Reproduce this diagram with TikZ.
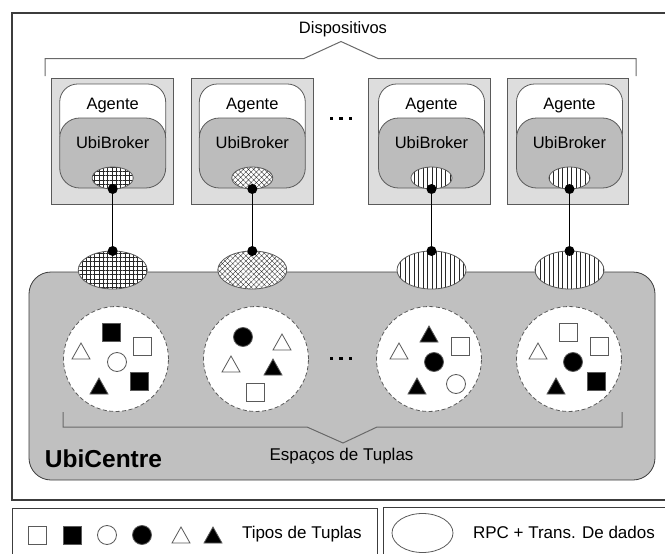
\documentclass[tikz,border=0pt]{standalone}
\usepackage{fontspec}
\setmainfont{Liberation Sans}
\usetikzlibrary{shapes.geometric,patterns.meta}

\definecolor{framegray}{RGB}{60,60,60}
\definecolor{devfill}{RGB}{221,221,221}
\definecolor{brokerfill}{RGB}{188,188,188}
\definecolor{centrefill}{RGB}{192,192,192}
\definecolor{edgegray}{RGB}{90,90,90}
\definecolor{bracegray}{RGB}{105,105,105}
\definecolor{hatchink}{RGB}{40,40,40}

% tuple-type glyphs (position in px, y downwards)
\newcommand\tupSq[3]{\draw[tupline,fill=#3,shift={(#1,#2)}] (-9,-9) rectangle (9,9);}
\newcommand\tupCirc[3]{\draw[tupline,fill=#3,shift={(#1,#2)}] (0,0) circle (9.5pt);}
\newcommand\tupTri[3]{\draw[tupline,fill=#3,shift={(#1,#2)}] (-9,8) -- (9,8) -- (0,-8) -- cycle;}
\newcommand\tupDots[2]{\foreach \dx in {-9.5,0,9.5}{\fill[black,shift={(#1+\dx,#2)}] (-1.8,-1.8) rectangle (1.8,1.8);}}

\tikzset{
  every node/.style={inner sep=0pt, outer sep=0pt},
  txt/.style={font=\fontsize{16.5}{19}\selectfont},
  devbox/.style={rectangle, draw=edgegray, fill=devfill, line width=0.8pt,
                 minimum width=121.5pt, minimum height=126pt},
  agentbox/.style={rectangle, draw=edgegray, fill=white, line width=0.8pt,
                 rounded corners=18pt, minimum width=106pt, minimum height=66pt},
  brokerbox/.style={rectangle, draw=edgegray, fill=brokerfill, line width=0.8pt,
                 rounded corners=20pt, minimum width=106pt, minimum height=70pt},
  centrebox/.style={rectangle, draw=framegray, fill=centrefill, line width=0.8pt,
                 rounded corners=22pt, minimum width=626pt, minimum height=208pt},
  spacecirc/.style={circle, draw=edgegray, fill=white, dashed, dash pattern=on 4pt off 2.5pt,
                 line width=0.8pt, minimum size=105pt},
  smallell/.style={ellipse, draw=edgegray, line width=0.8pt, preaction={fill=white},
                 minimum width=41pt, minimum height=22pt},
  bigell/.style={ellipse, draw=edgegray, line width=0.8pt, preaction={fill=white},
                 minimum width=69pt, minimum height=38pt},
  patA/.style={pattern={Hatch[angle=0,distance=4.3pt,line width=0.35pt]}, pattern color=hatchink},
  patB/.style={pattern={Hatch[angle=45,distance=3.7pt,line width=0.32pt]}, pattern color=hatchink},
  patC/.style={pattern={Lines[angle=90,distance=4.5pt,line width=0.4pt]}, pattern color=hatchink},
  link/.style={draw=black, line width=0.9pt},
  brace/.style={draw=bracegray, line width=1pt},
  frame/.style={draw=framegray, line width=1.2pt},
  tupline/.style={draw=edgegray, line width=0.8pt},
}

\begin{document}
\begin{tikzpicture}[x=1pt, y=-1pt]
  \useasboundingbox (0,0) rectangle (665,554);

  % outer frame and legend boxes
  \draw[frame] (12,13) rectangle (672,500);
  \draw[frame, line width=1pt] (12,508) rectangle (377,562);
  \draw[frame, line width=1pt] (383,507) rectangle (672,562);

  % devices bracket
  \node[txt, anchor=base] (dispositivos) at (343,33.5) {Dispositivos};
  \draw[brace] (45,76) -- (45,58.5) -- (304,58.5) -- (341,41.5) -- (378,58.5) -- (636,58.5) -- (636,76);

  % UbiCentre body
  \node[centrebox] (ubicentre) at (342,376) {};

  % devices: box, agent, broker, local endpoint, channel ellipse, tuple space
  \foreach \i/\bx/\lx/\tx/\pat in {1/112.3/112.7/116/patA, 2/252.5/252.3/256/patB,
                                   3/429.5/431.5/429/patC, 4/568/569.5/569/patC}{
    \node[devbox] (dev\i) at (\bx,141) {};
    \node[agentbox] (ag\i) at (\lx,117) {};
    \node[brokerbox] (br\i) at (\lx,153) {};
    \node[txt, anchor=base] (agtxt\i) at (\lx,109) {Agente};
    \node[txt, anchor=base] (brtxt\i) at (\lx,148) {UbiBroker};
    \node[smallell, \pat] (se\i) at (\lx,178) {};
    \node[spacecirc] (ts\i) at (\tx,359) {};
    \node[bigell, \pat] (ce\i) at (\lx,270) {};
    \draw[link] (se\i.south) -- (ce\i.north);
    \fill[black] (se\i.south) circle (5pt);
    \fill[black] (ce\i.north) circle (5pt);
  }

  % ellipsis marks
  \tupDots{341}{118.3}
  \tupDots{341}{358.3}

  % tuples in space 1
  \tupSq{111}{332}{black}
  \tupSq{142}{346}{white}
  \tupTri{81}{351}{white}
  \tupCirc{117}{362}{white}
  \tupTri{99}{386}{black}
  \tupSq{139}{381}{black}
  % tuples in space 2
  \tupCirc{243}{337}{black}
  \tupTri{282}{342}{white}
  \tupTri{231}{364}{white}
  \tupTri{273}{367}{black}
  \tupSq{255}{392}{white}
  % tuples in space 3
  \tupTri{429}{334}{black}
  \tupTri{399}{351}{white}
  \tupSq{460}{346}{white}
  \tupCirc{434}{362}{black}
  \tupTri{417}{386}{black}
  \tupCirc{456}{384}{white}
  % tuples in space 4
  \tupSq{568}{332}{white}
  \tupSq{599}{346}{white}
  \tupTri{538}{351}{white}
  \tupCirc{573}{362}{black}
  \tupTri{556}{386}{black}
  \tupSq{596}{381}{black}

  % tuple spaces bracket
  \draw[brace] (63,412) -- (63,427) -- (307,427) -- (343,443) -- (377,427) -- (622,427) -- (622,412);
  \node[txt, font=\fontsize{17}{20}\selectfont, anchor=base] (espacos) at (341.5,460) {Espaços de Tuplas};
  \node[anchor=base west, font=\fontsize{24.5}{28}\selectfont\bfseries] (ubiname) at (45,467) {UbiCentre};

  % legend: tuple types
  \tupSq{37.5}{535}{white}
  \tupSq{72}{535}{black}
  \tupCirc{107}{535}{white}
  \tupCirc{142}{535}{black}
  \tupTri{181}{535}{white}
  \tupTri{213}{535}{black}
  \node[anchor=base west, font=\fontsize{17}{20}\selectfont] (tipos) at (242,538.5) {Tipos de Tuplas};

  % legend: channel
  \node[ellipse, draw=edgegray, line width=0.8pt, minimum width=61pt, minimum height=39pt] (legell) at (422.5,533) {};
  \node[anchor=base west, font=\fontsize{17}{20}\selectfont] (rpc) at (473,538.5) {RPC + Trans. De dados};
\end{tikzpicture}
\end{document}
